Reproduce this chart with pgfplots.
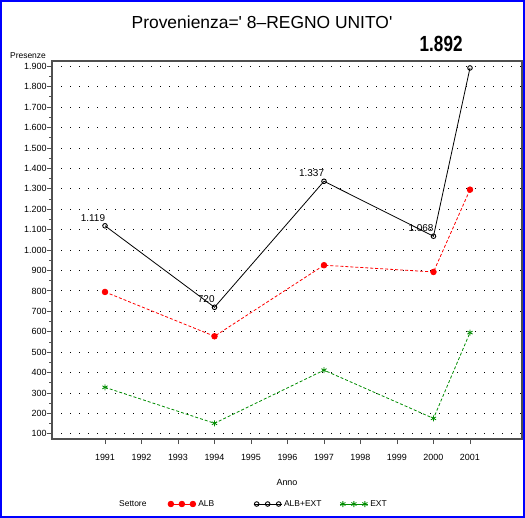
\documentclass[border=0pt]{standalone}
\usepackage{fontspec}
\setmainfont{Liberation Sans}[Ligatures=TeXOff]
\usepackage{pgfplots}
\pgfplotsset{compat=1.18}
\definecolor{sasgreen}{RGB}{0,140,0}
\definecolor{axgray}{RGB}{80,80,80}
\newcommand{\gap}[1]{\rule{#1}{0pt}}
\begin{document}
\begin{tikzpicture}
\begin{axis}[
  scale only axis, width=470bp, height=378bp,
  at={(0,0)}, anchor=south west,
  xmin=1989.548, xmax=2002.425, ymin=75, ymax=1926,
  xtick={1991,1992,...,2001}, minor x tick num=4,
  ytick={100,200,...,1900}, minor y tick num=1,
  tick pos=left, tick align=outside,
  major tick length=5bp, minor tick length=3bp,
  every tick/.style={axgray, line width=0.9bp},
  axis line style={axgray, line width=1.4bp},
  ymajorgrids,
  grid style={black, line width=0.9bp, dash pattern=on 0.9bp off 8.1bp},
  /pgf/number format/assume math mode=true,
  ticklabel style={font=\fontsize{9}{10}\selectfont},
  xticklabel style={/pgf/number format/1000 sep={}, yshift=-7bp},
  yticklabel style={/pgf/number format/1000 sep={.}, xshift=3bp},
  clip=false,
  legend columns=4,
  legend style={draw=none, fill=none, at={(0.1383,-0.172)}, anchor=west,
    font=\fontsize{8.5}{10}\selectfont, column sep=0pt, inner sep=0pt,
    cells={inner sep=0pt, anchor=west}},
  legend image code/.code={
    \draw[#1, mark repeat=1] plot coordinates {(3bp,0bp) (14bp,0bp) (25bp,0bp)};
    \path (0bp,0bp) -- (28bp,0bp);
  },
]
\addlegendimage{empty legend}
\addlegendentry{Settore\gap{19bp}}

\addplot[red, line width=0.8bp, dash pattern=on 3bp off 2bp,
  mark=*, mark size=2.8bp, mark options={solid, fill=red}]
  coordinates {(1991,795) (1994,578) (1997,926) (2000,893) (2001,1296)};
\addlegendentry{ALB\gap{37bp}}

\addplot[black, line width=0.8bp, mark=o, mark size=2.3bp,
  mark options={solid, line width=0.9bp},
  nodes near coords, point meta=explicit symbolic,
  nodes near coords style={anchor=south east, inner sep=0pt, yshift=4bp, xshift=0.5bp,
    font=\fontsize{10}{12}\selectfont, black}]
  coordinates {(1991,1119)[1.119] (1994,720)[720] (1997,1337)[1.337] (2000,1068)[1.068] (2001,1892)[]};
\addlegendentry{ALB+EXT\gap{16bp}}

\addplot[sasgreen, line width=0.8bp, dash pattern=on 3bp off 2bp,
  mark=asterisk, mark size=3bp, mark options={solid}]
  coordinates {(1991,328) (1994,152) (1997,412) (2000,176) (2001,596)};
\addlegendentry{EXT}

\node[font=\bfseries\fontsize{22}{22}\selectfont, xscale=0.78, inner sep=0pt]
  at (axis cs:2001,1892) [xshift=-37bp, yshift=24bp] {1.892};
\end{axis}
\node[font=\fontsize{17.5}{20}\selectfont, inner sep=0pt] at (210bp,417bp) {Provenienza=' 8–REGNO UNITO'};
\node[font=\fontsize{8.5}{10}\selectfont, inner sep=0pt] at (-24bp,383bp) {Presenze};
\node[font=\fontsize{9}{10}\selectfont, inner sep=0pt] at (235bp,-43bp) {Anno};
\draw[blue, line width=2.5bp] (-50.75bp,-77.75bp) rectangle (471.75bp,437.75bp);
\pgfresetboundingbox
\useasboundingbox (-52bp,-79bp) rectangle (473bp,439bp);
\end{tikzpicture}
\end{document}
